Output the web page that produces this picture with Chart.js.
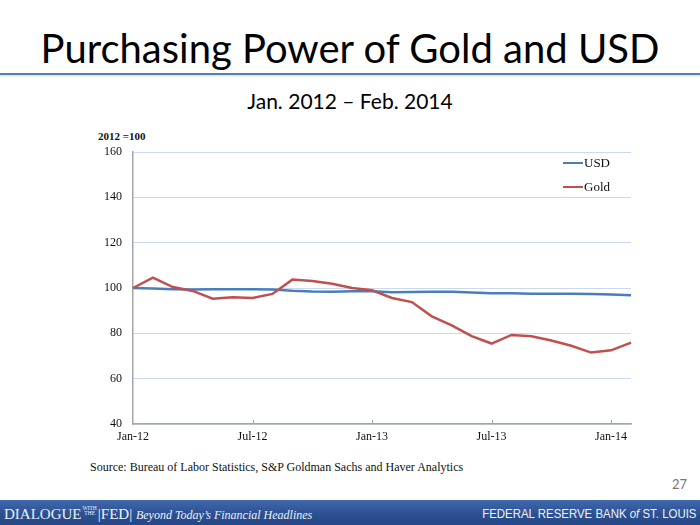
<!DOCTYPE html>
<html>
<head>
<meta charset="utf-8">
<script src="https://cdn.jsdelivr.net/npm/chart.js@4.4.1/dist/chart.umd.min.js"></script>
<style>
html,body{margin:0;padding:0;background:#fff;}
#wrap{position:relative;width:700px;height:525px;overflow:hidden;background:#fff;}
.t{position:absolute;white-space:nowrap;line-height:1;}
#title{left:0;width:700px;top:28px;text-align:center;font-family:Lato,"Open Sans",sans-serif;font-size:40px;color:#000;}
#rule{position:absolute;left:0;top:73px;width:700px;height:2px;background:#4f81bd;box-shadow:0 1px 2px rgba(0,0,0,0.15);}
#sub{left:0;width:700px;top:90px;text-align:center;font-family:Lato,"Open Sans",sans-serif;font-size:21px;color:#000;}
#unit{left:98px;top:131px;font-family:"Liberation Serif",serif;font-weight:bold;font-size:11px;color:#111;}
#src{left:90px;top:461px;font-family:"Liberation Serif",serif;font-size:12px;color:#111;}
#page{left:672px;top:478px;font-family:Lato,sans-serif;font-size:13px;color:#777;}
#footer{position:absolute;left:0;top:500px;width:700px;height:25px;background:linear-gradient(#4068ad,#2b4f90 60%,#244787);}
#fl{left:4px;top:6px;font-family:"Liberation Serif",serif;font-size:15px;color:#eef2fa;}
#fl .sm{display:inline-block;font-size:5.5px;line-height:5px;vertical-align:4px;text-align:center;margin:0 1px;}
#fl i{font-size:12px;}
#fr{right:4px;top:7px;font-family:"Liberation Sans",sans-serif;font-size:13px;color:#eef2fa;transform:scaleX(0.88);transform-origin:right center;}
canvas{position:absolute;left:0;top:0;}
</style>
</head>
<body>
<div id="wrap">
  <div class="t" id="title">Purchasing Power of Gold and USD</div>
  <div id="rule"></div>
  <div class="t" id="sub">Jan. 2012 – Feb. 2014</div>
  <div class="t" id="unit">2012 =100</div>
  <div class="t" id="src">Source: Bureau of Labor Statistics, S&amp;P Goldman Sachs and Haver Analytics</div>
  <div class="t" id="page">27</div>
  <div id="footer">
    <div class="t" id="fl">DIALOGUE<span class="sm">WITH<br>THE</span>|FED| <i>Beyond Today’s Financial Headlines</i></div>
    <div class="t" id="fr">FEDERAL RESERVE BANK <i>of</i> ST. LOUIS</div>
  </div>
  <canvas id="c" width="700" height="525"></canvas>
</div>
<script>
const months = ["Jan-12","Feb-12","Mar-12","Apr-12","May-12","Jun-12","Jul-12","Aug-12","Sep-12","Oct-12","Nov-12","Dec-12",
                "Jan-13","Feb-13","Mar-13","Apr-13","May-13","Jun-13","Jul-13","Aug-13","Sep-13","Oct-13","Nov-13","Dec-13",
                "Jan-14","Feb-14"];
const usd  = [100, 99.8, 99.5, 99.3, 99.4, 99.5, 99.5, 99.3, 98.8, 98.5, 98.4, 98.6,
              98.6, 98.1, 98.2, 98.4, 98.3, 98.0, 97.7, 97.7, 97.5, 97.5, 97.5, 97.3,
              97.1, 96.8];
const gold = [100, 104.6, 100.4, 98.7, 95.3, 95.9, 95.6, 97.4, 103.7, 103.1, 101.9, 100.0,
              99.0, 95.6, 93.8, 87.5, 83.5, 78.8, 75.5, 79.3, 78.7, 76.8, 74.5, 71.5,
              72.5, 75.9];
const shownTicks = ["Jan-12","Jul-12","Jan-13","Jul-13","Jan-14"];
const yTicks = [40, 60, 80, 100, 120, 140, 160];

const serif = "'Liberation Serif', 'Times New Roman', serif";

const innerTicks = {
  id: 'innerTicks',
  afterDatasetsDraw(chart) {
    const x = chart.scales.x, ctx = chart.ctx;
    ctx.save();
    ctx.strokeStyle = '#a6a6a6';
    ctx.lineWidth = 1;
    x.ticks.forEach((t, i) => {
      if (!shownTicks.includes(months[t.value])) return;
      if (i === 0) return;
      const px = Math.round(x.getPixelForTick(i)) + 0.5;
      ctx.beginPath();
      ctx.moveTo(px, x.top);
      ctx.lineTo(px, x.top - 4);
      ctx.stroke();
    });
    ctx.restore();
  }
};

const insideLegend = {
  id: 'insideLegend',
  afterDraw(chart) {
    const ctx = chart.ctx;
    const area = chart.chartArea;
    ctx.save();
    ctx.font = "13px " + serif;
    ctx.textBaseline = 'middle';
    ctx.fillStyle = '#111';
    chart.data.datasets.forEach((ds, i) => {
      const y = area.top + 11 + i * 24;
      const x0 = area.right - 68;
      ctx.strokeStyle = ds.borderColor;
      ctx.lineWidth = 2;
      ctx.beginPath();
      ctx.moveTo(x0, y);
      ctx.lineTo(x0 + 20, y);
      ctx.stroke();
      ctx.fillText(ds.label, x0 + 21, y + 1);
    });
    ctx.restore();
  }
};

new Chart(document.getElementById('c'), {
  type: 'line',
  data: {
    labels: months,
    datasets: [
      { label: 'USD', data: usd, borderColor: '#4a7ebb', backgroundColor: '#4a7ebb',
        borderWidth: 2.5, pointRadius: 0, tension: 0, order: 1 },
      { label: 'Gold', data: gold, borderColor: '#c0504d', backgroundColor: '#c0504d',
        borderWidth: 2.5, pointRadius: 0, tension: 0, order: 0 }
    ]
  },
  options: {
    responsive: false,
    animation: false,
    events: [],
    layout: { padding: { left: 93, right: 69, top: 152, bottom: 77 } },
    plugins: { legend: { display: false }, tooltip: { enabled: false }, title: { display: false } },
    scales: {
      x: {
        type: 'category',
        offset: false,
        afterFit(s) { s.height = 24; },
        grid: { display: false, drawTicks: false },
        border: { display: true, color: '#a6a6a6', width: 1.5 },
        ticks: {
          autoSkip: false, maxRotation: 0, padding: 6,
          color: '#111', font: { family: serif, size: 12 },
          callback(v) { const l = months[v]; return shownTicks.includes(l) ? l : ''; }
        }
      },
      y: {
        min: 40, max: 160,
        afterFit(s) { s.width = 40; },
        afterBuildTicks(s) { s.ticks = yTicks.map(v => ({ value: v })); },
        grid: { color: '#c9d9ef', lineWidth: 1, drawTicks: false },
        border: { display: true, color: '#a6a6a6', width: 1.5 },
        ticks: { padding: 11, color: '#111', font: { family: serif, size: 12 } }
      }
    }
  },
  plugins: [innerTicks, insideLegend]
});
</script>
</body>
</html>
